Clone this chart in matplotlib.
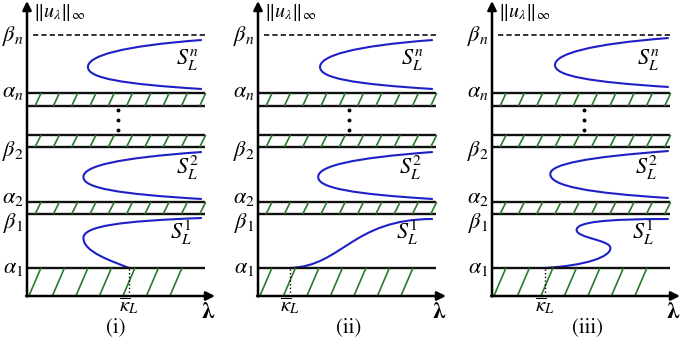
import numpy as np
import matplotlib
matplotlib.use("Agg")
from matplotlib import pyplot as plt
from matplotlib.path import Path
from matplotlib.patches import PathPatch
from matplotlib.collections import LineCollection

plt.rcParams['mathtext.fontset'] = 'stix'
plt.rcParams['font.family'] = ['STIXGeneral', 'DejaVu Serif']

# levels on the ||u|| axis (schematic units)
level_names = [r'$\alpha_1$', r'$\beta_1$', r'$\alpha_2$', r'$\beta_2$', r'$\alpha_n$', r'$\beta_n$']
level_values = [2.8, 8.2, 9.4, 14.9, 20.3, 26.1]
label_y = [2.8, 7.3, 9.8, 14.5, 20.4, 26.0]
# solid horizontal lines (the band edges)
band_lines = [2.8, 8.2, 9.4, 14.9, 16.1, 19.0, 20.3]
# thin hatched bands (lower, upper)
thin_bands = [(8.2, 9.4), (14.9, 16.1), (19.0, 20.3)]
alpha1 = 2.8
beta_n = 26.1
dots_u = [18.6, 17.6, 16.6]

panel_names = ['(i)', '(ii)', '(iii)']
panel_left_px = [27, 258, 492]
kappa = [0.543, 0.17, 0.28]
dots_x = [0.484, 0.484, 0.49]
caption_x = [0.47, 0.48, 0.51]

# cubic bezier pieces (lambda, u) for each branch, per panel
curves_n = [
    [[(0.93, 25.6), (0.50, 25.0), (0.324, 24.0), (0.324, 22.9)],
     [(0.324, 22.9), (0.324, 21.8), (0.50, 21.2), (0.93, 20.7)]],
    [[(0.93, 25.6), (0.50, 25.0), (0.33, 24.0), (0.33, 22.9)],
     [(0.33, 22.9), (0.33, 21.8), (0.50, 21.2), (0.93, 20.7)]],
    [[(0.94, 25.8), (0.52, 25.2), (0.335, 24.2), (0.335, 23.1)],
     [(0.335, 23.1), (0.335, 22.0), (0.52, 21.4), (0.94, 20.9)]],
]
curves_2 = [
    [[(0.93, 14.4), (0.48, 13.8), (0.30, 13.0), (0.30, 11.9)],
     [(0.30, 11.9), (0.30, 10.8), (0.48, 10.2), (0.93, 9.7)]],
    [[(0.93, 14.4), (0.50, 13.8), (0.32, 13.0), (0.32, 11.9)],
     [(0.32, 11.9), (0.32, 10.8), (0.50, 10.2), (0.93, 9.7)]],
    [[(0.94, 14.5), (0.51, 13.9), (0.31, 13.2), (0.31, 12.2)],
     [(0.31, 12.2), (0.31, 11.0), (0.51, 10.3), (0.94, 9.8)]],
]
curves_1 = [
    [[(0.93, 7.8), (0.50, 7.5), (0.30, 7.0), (0.30, 5.8)],
     [(0.30, 5.8), (0.30, 4.4), (0.45, 3.5), (0.543, 2.8)]],
    [[(0.17, 2.8), (0.45, 3.0), (0.50, 7.7), (0.93, 7.7)]],
    [[(0.28, 2.8), (0.50, 3.05), (0.63, 3.9), (0.63, 4.8)],
     [(0.63, 4.8), (0.63, 5.6), (0.45, 5.8), (0.45, 6.6)],
     [(0.45, 6.6), (0.45, 7.4), (0.60, 7.7), (0.94, 7.7)]],
]
s_label_x = [(0.856, 0.856, 0.82), (0.82, 0.81, 0.79), (0.83, 0.82, 0.80)]
s_label_y = [23.6, 12.8, 6.3]
s_label_txt = [r'$S_L^n$', r'$S_L^2$', r'$S_L^1$']

FIG_W, FIG_H = 685, 338
AX_W, AX_H = 188, 291
line_end = 0.947
blue = '#1f1fc8'
green = '#2a7a2a'

fig = plt.figure(figsize=(FIG_W / 100, FIG_H / 100), dpi=100)


def draw_branches(ax, pieces):
    for seg in pieces:
        path = Path(seg, [Path.MOVETO, Path.CURVE4, Path.CURVE4, Path.CURVE4])
        ax.add_patch(PathPatch(path, fc='none', ec=blue, lw=1.5, clip_on=False))


for i in range(3):
    ax = fig.add_axes([panel_left_px[i] / FIG_W, 42 / FIG_H, AX_W / FIG_W, AX_H / FIG_H])
    ax.set_xlim(0, 1)
    ax.set_ylim(0, 29.1)
    ax.axis('off')

    # axes with arrows
    arrow = dict(arrowstyle='-|>', lw=1.8, color='k', mutation_scale=13, shrinkA=0, shrinkB=0)
    ax.annotate('', xy=(0, 29.5), xytext=(0, -0.05), arrowprops=arrow, annotation_clip=False)
    ax.annotate('', xy=(1.0, 0), xytext=(-0.005, 0), arrowprops=arrow, annotation_clip=False)

    # horizontal lines
    for u in band_lines:
        ax.plot([0, line_end], [u, u], color='#111111', lw=1.7, solid_capstyle='butt')
    ax.plot([0.03, line_end], [beta_n, beta_n], color='#111111', lw=1.2, ls=(0, (3.2, 1.8)))

    # thin hatched bands
    segs = []
    for lo, hi in thin_bands:
        for x in np.arange(0.043, 0.94, 0.0973):
            segs.append([(x, lo), (x + 0.032, hi)])
    # wide hatch under alpha_1
    for x in np.arange(0.01, 0.88, 0.125):
        segs.append([(x, 0), (x + 0.064, alpha1)])
    ax.add_collection(LineCollection(segs, colors=green, lw=1.2))

    # dots
    ax.plot([dots_x[i]] * 3, dots_u, 'o', color='k', ms=1.8)

    # branches
    draw_branches(ax, curves_n[i])
    draw_branches(ax, curves_2[i])
    draw_branches(ax, curves_1[i])

    # kappa dotted line
    ax.plot([kappa[i], kappa[i]], [0, alpha1], color='k', lw=1.0, ls=':')

    # level labels
    for name, yy in zip(level_names, label_y):
        ax.text(-0.02, yy, name, ha='right', va='center', fontsize=16)

    for j in range(3):
        ax.text(s_label_x[i][j], s_label_y[j], s_label_txt[j], ha='center', va='center', fontsize=16)

    ax.text(0.03, 28.4, r'$\Vert u_\lambda \Vert_\infty$', ha='left', va='center', fontsize=14.5)
    ax.text(kappa[i], -1.0, r'$\overline{\kappa}_L$', ha='center', va='center', fontsize=15)
    ax.text(0.963, -1.6, 'λ', ha='center', va='center', fontsize=17, fontweight='bold')
    ax.text(caption_x[i], -3.1, panel_names[i], ha='center', va='center', fontsize=15)

fig.savefig('out.png', dpi=100)
